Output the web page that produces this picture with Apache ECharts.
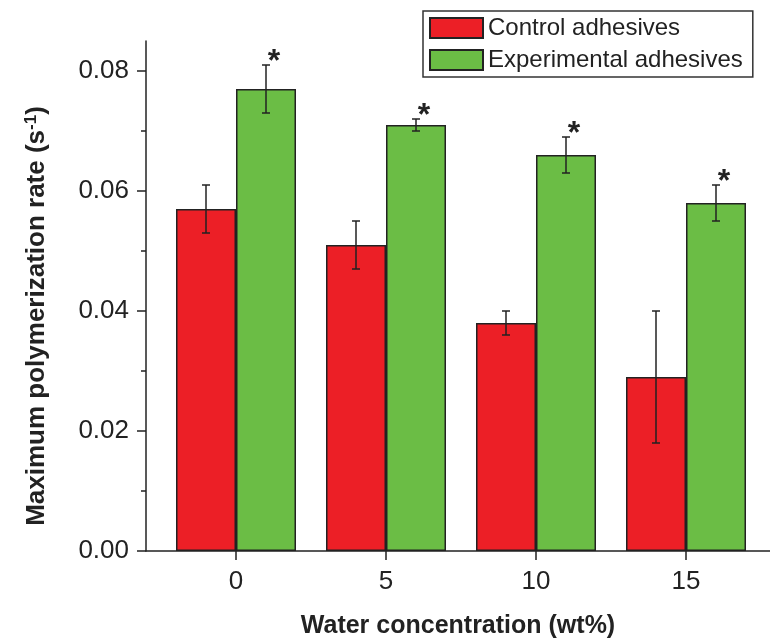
<!DOCTYPE html>
<html>
<head>
<meta charset="utf-8">
<script src="https://cdn.jsdelivr.net/npm/echarts@6/dist/echarts.min.js"></script>
<style>
html, body { margin: 0; padding: 0; background: #fff; }
#chart { width: 770px; height: 639px; }
</style>
</head>
<body>
<div id="chart"></div>
<script>
// water concentration (wt%)
var waterConc = [0, 5, 10, 15];
// maximum polymerization rate (s^-1), mean and error
var controlMean = [0.057, 0.051, 0.038, 0.029];
var controlErr  = [0.004, 0.004, 0.002, 0.011];
var expMean     = [0.077, 0.071, 0.066, 0.058];
var expErr      = [0.004, 0.001, 0.003, 0.003];
var yTicks      = [0, 0.02, 0.04, 0.06, 0.08];
var yMinorTicks = [0.01, 0.03, 0.05, 0.07];

var FONT = '"Liberation Sans", Arial, sans-serif';
var INK = '#222';

function pairs(xs, ys) {
    return xs.map(function (x, i) { return [x, ys[i]]; });
}
function errData(xs, m, e) {
    return xs.map(function (x, i) { return [x, m[i] - e[i], m[i] + e[i]]; });
}

// error bar drawn at (x + shift) in axis units; star marks the experimental ones
function errorBars(shift, star) {
    return function (params, api) {
        var x = api.value(0) + shift;
        var lo = api.coord([x, api.value(1)]);
        var hi = api.coord([x, api.value(2)]);
        var cap = 4;
        var style = { stroke: INK, lineWidth: 1.5 };
        var children = [
            { type: 'line', shape: { x1: hi[0], y1: hi[1], x2: lo[0], y2: lo[1] }, style: style },
            { type: 'line', shape: { x1: hi[0] - cap, y1: hi[1], x2: hi[0] + cap, y2: hi[1] }, style: style },
            { type: 'line', shape: { x1: lo[0] - cap, y1: lo[1], x2: lo[0] + cap, y2: lo[1] }, style: style }
        ];
        if (star) {
            children.push({
                type: 'text',
                style: {
                    x: hi[0] + 8, y: hi[1] + 13, text: '*',
                    font: 'bold 32px ' + FONT, fill: INK,
                    align: 'center', verticalAlign: 'bottom'
                }
            });
        }
        return { type: 'group', children: children };
    };
}

var myChart = echarts.init(document.getElementById('chart'));
var option = {
    animation: false,
    backgroundColor: '#fff',
    textStyle: { fontFamily: FONT },
    legend: {
        orient: 'vertical',
        left: 423,
        top: 11,
        padding: [5, 10, 5, 6],
        itemGap: 8,
        itemWidth: 53,
        itemHeight: 20,
        itemTextGap: 8,
        icon: 'rect',
        borderColor: '#333',
        borderWidth: 1.5,
        borderRadius: 0,
        textStyle: { fontSize: 24, color: INK, fontFamily: FONT },
        data: ['Control adhesives', 'Experimental adhesives']
    },
    grid: { left: 146, right: 0, top: 41, bottom: 88, outerBoundsMode: 'none' },
    xAxis: {
        type: 'value',
        min: -3,
        max: 17.8,
        name: 'Water concentration (wt%)',
        nameLocation: 'middle',
        nameGap: 63,
        nameTextStyle: { fontSize: 25, fontWeight: 'bold', color: INK, fontFamily: FONT },
        splitLine: { show: false },
        axisLine: { lineStyle: { color: INK, width: 1.5 } },
        axisTick: { customValues: waterConc, length: 9, lineStyle: { color: INK, width: 1.5 } },
        axisLabel: { customValues: waterConc, fontSize: 26, color: INK, margin: 18, fontFamily: FONT }
    },
    yAxis: [{
        type: 'value',
        min: 0,
        max: 0.085,
        name: '{t|Maximum polymerization rate (s}{s|-1}{t|)}',
        nameLocation: 'middle',
        nameGap: 96,
        nameTextStyle: {
            padding: [0, 40, 0, 0],
            rich: {
                t: { fontSize: 26, fontWeight: 'bold', color: INK, fontFamily: FONT },
                s: { fontSize: 17, fontWeight: 'bold', color: INK, fontFamily: FONT, verticalAlign: 'top', padding: [0, 0, 10, 0] }
            }
        },
        splitLine: { show: false },
        axisLine: { onZero: false, lineStyle: { color: INK, width: 1.5 } },
        axisTick: { customValues: yTicks, length: 9, lineStyle: { color: INK, width: 1.5 } },
        axisLabel: {
            customValues: yTicks, fontSize: 26, color: INK, margin: 17, fontFamily: FONT,
            formatter: function (v) { return v.toFixed(2); }
        }
    }, {
        type: 'value',
        position: 'left',
        min: 0,
        max: 0.085,
        splitLine: { show: false },
        axisLine: { show: false, onZero: false },
        axisLabel: { show: false },
        axisTick: { customValues: yMinorTicks, length: 5, lineStyle: { color: INK, width: 1.5 } }
    }],
    series: [{
        name: 'Control adhesives',
        type: 'bar',
        barWidth: 60,
        barGap: '0%',
        itemStyle: { color: '#EC1F26', borderColor: INK, borderWidth: 1.5 },
        data: pairs(waterConc, controlMean)
    }, {
        name: 'Experimental adhesives',
        type: 'bar',
        barWidth: 60,
        barGap: '0%',
        itemStyle: { color: '#6BBD45', borderColor: INK, borderWidth: 1.5 },
        data: pairs(waterConc, expMean)
    }, {
        type: 'custom',
        name: 'control error',
        renderItem: errorBars(-1, false),
        encode: { x: 0, y: [1, 2] },
        z: 5,
        data: errData(waterConc, controlMean, controlErr)
    }, {
        type: 'custom',
        name: 'experimental error',
        renderItem: errorBars(1, true),
        encode: { x: 0, y: [1, 2] },
        z: 5,
        data: errData(waterConc, expMean, expErr)
    }]
};
myChart.setOption(option);
</script>
</body>
</html>
